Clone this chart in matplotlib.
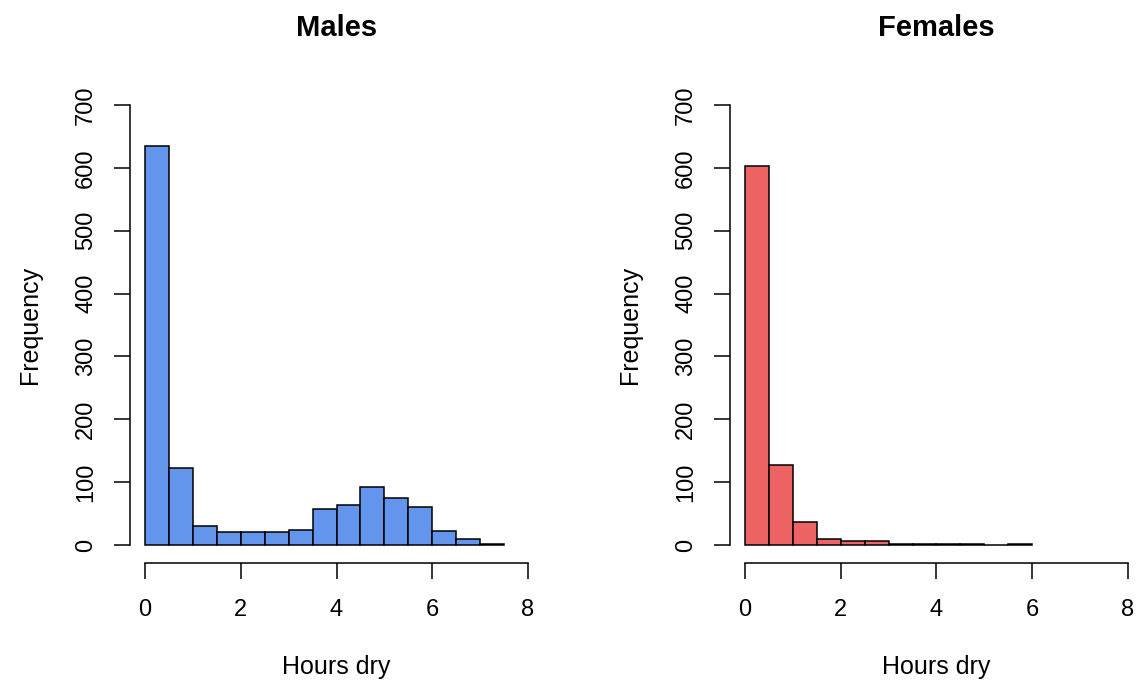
import numpy as np
import matplotlib.pyplot as plt

plt.rcParams['font.family'] = ['Liberation Sans', 'DejaVu Sans']

# histogram counts per half-hour bin
male_edges = np.arange(0, 8.0, 0.5)
male_counts = [635, 123, 30, 21, 20, 20, 24, 57, 64, 92, 75, 60, 23, 10, 2]

female_edges = np.arange(0, 6.5, 0.5)
female_counts = [603, 128, 36, 10, 7, 6, 2, 1, 2, 1, 0, 1]

x_ticks = [0, 2, 4, 6, 8]
y_ticks = [0, 100, 200, 300, 400, 500, 600, 700]

fig = plt.figure(figsize=(11.41, 6.84), dpi=100)

panels = [
    (0.1137, "Males", male_edges, male_counts, "#6495ED"),
    (0.6395, "Females", female_edges, female_counts, "#EE6363"),
]

for left, title, edges, counts, color in panels:
    ax = fig.add_axes([left, 0.1775, 0.3625, 0.6947])
    ax.bar(edges[:-1], counts, width=0.5, align='edge', color=color,
           edgecolor='black', linewidth=1.1)
    ax.set_xlim(-0.32, 8.32)
    ax.set_ylim(-28, 728)
    for s in ['top', 'right']:
        ax.spines[s].set_visible(False)
    ax.spines['left'].set_bounds(0, 700)
    ax.spines['bottom'].set_bounds(0, 8)
    ax.spines['left'].set_linewidth(1.1)
    ax.spines['bottom'].set_linewidth(1.1)
    ax.set_xticks(x_ticks)
    ax.set_yticks(y_ticks)
    ax.set_yticklabels([str(v) for v in y_ticks], rotation=90, va='center')
    ax.tick_params(length=11.5, width=1.1, labelsize=17)
    ax.tick_params(axis='x', pad=15)
    ax.tick_params(axis='y', pad=12)
    ax.set_xlabel("Hours dry", fontsize=18, labelpad=24)
    ax.set_ylabel("Frequency", fontsize=18, labelpad=24)
    ax.set_title(title, fontsize=21, fontweight='bold', pad=37)

plt.savefig("out.png", dpi=100)
